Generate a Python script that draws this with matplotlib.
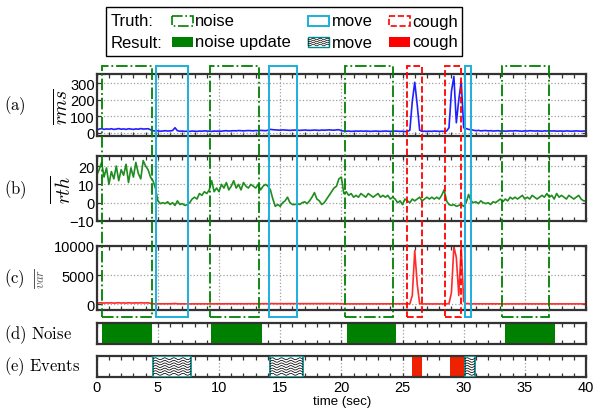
import numpy as np
import matplotlib
matplotlib.use('Agg')
import matplotlib.pyplot as plt
from matplotlib.patches import Rectangle
from matplotlib.transforms import blended_transform_factory
from matplotlib.ticker import MultipleLocator

plt.rcParams['font.family'] = ['Liberation Sans', 'DejaVu Sans']
plt.rcParams['mathtext.fontset'] = 'cm'

# ---------------- data ----------------
dt = 0.2  # sampling step (s)
rms = [15, 22, 25, 20, 23, 21, 24, 20, 22, 25,
       21, 23, 20, 24, 22, 20, 23, 21, 25, 22,
       23, 24, 18, 12, 10, 11, 9, 10, 12, 10,
       11, 13, 30, 12, 9, 10, 8, 9, 8, 10,
       9, 8, 10, 9, 11, 10, 9, 8, 10, 9,
       10, 9, 11, 12, 10, 11, 12, 11, 13, 12,
       11, 12, 13, 12, 11, 13, 12, 14, 13, 12,
       15, 20, 18, 17, 16, 15, 17, 16, 15, 14,
       15, 16, 15, 14, 15, 16, 15, 14, 15, 16,
       15, 14, 16, 15, 16, 17, 16, 15, 17, 18,
       12, 10, 9, 10, 8, 9, 10, 9, 10, 9,
       10, 9, 8, 9, 10, 9, 8, 9, 10, 9,
       8, 9, 10, 9, 8, 9, 7, 8, 15, 190,
       305, 170, 15, 8, 9, 8, 9, 8, 10, 9,
       8, 9, 8, 10, 30, 250, 340, 60, 200, 310,
       30, 25, 20, 18, 15, 12, 14, 11, 12, 13,
       11, 12, 10, 11, 12, 10, 11, 9, 10, 11,
       10, 12, 11, 10, 9, 11, 10, 12, 11, 10,
       11, 10, 9, 11, 10, 12, 10, 11, 9, 10,
       10, 9, 11, 10, 9, 10, 11, 10, 9, 10,
       10]

rth = [15, 18, 22, 14, 19, 10, 17, 13, 20, 12,
       18, 15, 21, 11, 19, 14, 22, 16, 13, 23,
       20, 18, 14, 12, 8, 1, -0.5, 0, -0.5, 0.5,
       -1, 0, -1.5, 1, -1, -0.5, -1.5, -1, 0, 2,
       3, 2, 5, 4, 6, 5, 7, 12, 6, 8,
       6, 10, 8, 11, 7, 9, 12, 8, 10, 7,
       11, 9, 8, 10, 9, 8, 10, 7, 9, 10,
       9, 7, 2, -2, -1, -2, 0, 1, 3, 0,
       -1, -1, -0.5, -1, 0, 0.5, -0.5, 1, 3, 5.5,
       2, 1, -1, 0, 2, 4, 6, 8, 9, 13,
       14, 5, 6, 4, 5, 3, 4, 3, 5, 4,
       3, 5, 4, 3, 4, 5, 3, 4, 3, 4,
       2, 3, 2, 0, 1, -1, 2, 1, 0, 2,
       1, 2, 3, 1, 2, 3, 2, 3, 2, 3,
       2, 4, 7, 1, -1, -1.5, -1, -2, -1.5, -1,
       -2, 0, 4.5, 1, 0, 0.5, -0.5, 1, 0, -0.5,
       0, -1, 0.5, 0, 1, 2, 0.5, 2, 1, 3,
       2, 3, 2, 3, 4, 2, 3, 2, 4, 3,
       2, 3, 4, 3, 5, 3, 4, 2, 5, 3,
       4, 3, 2, 4, 3, 2, 3, 4, 2, 1,
       1]

var = [150, 220, 250, 180, 230, 200, 240, 180, 210, 250,
       190, 230, 180, 240, 210, 190, 230, 200, 250, 210,
       220, 230, 150, 80, 60, 60, 50, 60, 70, 60,
       60, 70, 120, 60, 50, 60, 50, 50, 50, 60,
       50, 50, 60, 50, 60, 60, 50, 50, 60, 50,
       60, 50, 60, 70, 60, 60, 70, 60, 70, 70,
       60, 70, 70, 70, 60, 70, 70, 80, 70, 70,
       80, 100, 90, 90, 80, 80, 90, 80, 80, 70,
       80, 80, 80, 70, 80, 80, 80, 70, 80, 80,
       80, 70, 80, 80, 80, 90, 80, 80, 90, 90,
       60, 50, 50, 50, 40, 50, 50, 50, 50, 50,
       50, 50, 40, 50, 50, 50, 40, 50, 50, 50,
       40, 50, 50, 50, 40, 50, 40, 40, 60, 1500,
       9200, 3500, 100, 40, 50, 40, 50, 40, 50, 50,
       40, 50, 40, 50, 100, 2000, 9900, 8000, 1500, 9800,
       500, 100, 80, 70, 60, 50, 60, 50, 50, 60,
       50, 60, 50, 50, 60, 50, 50, 40, 50, 50,
       50, 60, 50, 50, 40, 50, 50, 60, 50, 50,
       50, 50, 40, 50, 50, 60, 50, 50, 40, 50,
       50, 40, 50, 50, 40, 50, 50, 50, 40, 50,
       50]

truth_noise = [(0.46, 4.5), (9.27, 13.25), (20.3, 24.24), (33.1, 37.0)]
truth_move = [(4.85, 7.46), (14.1, 16.4), (30.1, 30.6)]
truth_cough = [(25.4, 26.6), (28.5, 29.8)]
res_noise = [(0.41, 4.54), (9.38, 13.54), (20.5, 24.47), (33.4, 37.5)]
res_move = [(4.62, 7.69), (14.17, 16.85), (30.1, 30.9)]
res_cough = [(25.8, 26.6), (28.9, 30.04)]

xticks = [0, 5, 10, 15, 20, 25, 30, 35, 40]
yticks_a = [0, 100, 200, 300]
yticks_b = [-10, 0, 10, 20]
yticks_c = [0, 5000, 10000]

# ---------------- style ----------------
W, H = 593, 410
C_RMS = '#2020ff'
C_RTH = '#1f8c1f'
C_VAR = '#ff2a2a'
C_NOISE = '#008000'
C_MOVE = '#1ab0dc'
C_COUGH_T = '#ff0000'
C_COUGH_R = '#ee2200'
C_MOVE_EDGE = '#008b8b'
SPINE = '#333333'

fig = plt.figure(figsize=(W / 100, H / 100), dpi=100)
L = 96.7 / W
R = 586.0 / W


def mkax(top, bot):
    return fig.add_axes([L, 1 - bot / H, R - L, (bot - top) / H])


def style(ax, grid_y=True):
    ax.set_xlim(0, 40)
    ax.xaxis.set_major_locator(MultipleLocator(5))
    ax.xaxis.set_minor_locator(MultipleLocator(1))
    ax.tick_params(which='both', direction='in', top=True, right=True,
                   length=3, width=0.9, color=SPINE, labelsize=10.5, pad=1.5)
    ax.tick_params(axis='x', labelbottom=False)
    for s in ax.spines.values():
        s.set_linewidth(1.6)
        s.set_color(SPINE)
    ax.grid(True, axis='x', which='major', color='#a0a0a0', ls=':', lw=0.9)
    if grid_y:
        ax.grid(True, axis='y', which='major', color='#a0a0a0', ls=':', lw=0.9)


t_rms = np.arange(len(rms)) * dt
t_rth = np.arange(len(rth)) * dt
t_var = np.arange(len(var)) * dt

ax_a = mkax(75, 137)
ax_a.plot(t_rms, rms, color=C_RMS, lw=1.2)
ax_a.set_ylim(-20, 355)
ax_a.set_yticks(yticks_a)
style(ax_a)

ax_b = mkax(157, 222)
ax_b.plot(t_rth, rth, color=C_RTH, lw=1.2)
ax_b.set_ylim(-10, 25.5)
ax_b.set_yticks(yticks_b)
style(ax_b)

ax_c = mkax(247, 311)
ax_c.plot(t_var, var, color=C_VAR, lw=1.2)
ax_c.set_ylim(-1000, 10000)
ax_c.set_yticks(yticks_c)
style(ax_c)

ax_d = mkax(324, 345)
ax_d.set_ylim(0, 1)
ax_d.set_yticks([])
style(ax_d, grid_y=False)
for x0, x1 in res_noise:
    ax_d.axvspan(x0, x1, color=C_NOISE, lw=0, zorder=2)

ax_e = mkax(357, 378)
ax_e.set_ylim(0, 1)
ax_e.set_yticks([])
style(ax_e, grid_y=False)
ax_e.set_xticks(xticks)
ax_e.tick_params(axis='x', labelbottom=True, pad=2)
for x0, x1 in res_cough:
    ax_e.axvspan(x0, x1, color=C_COUGH_R, lw=0, zorder=2)
for x0, x1 in res_move:
    ax_e.add_patch(Rectangle((x0, 0), x1 - x0, 1, facecolor='white',
                             edgecolor=C_MOVE_EDGE, lw=1.2, zorder=3))
    xs = np.linspace(x0, x1, 200)
    for off in np.linspace(0.13, 0.87, 7):
        ys = off + 0.045 * np.sin(2 * np.pi * (xs - x0) / 0.75)
        ax_e.plot(xs, ys, color='black', lw=0.55, zorder=3.5)

# ---------------- truth boxes spanning panels a-c ----------------
btr = blended_transform_factory(ax_a.transData, fig.transFigure)
yb = 1 - 318 / H
yt = 1 - 67 / H
for x0, x1 in truth_noise:
    fig.add_artist(Rectangle((x0, yb), x1 - x0, yt - yb, transform=btr, fill=False,
                             ec=C_NOISE, lw=1.3, ls='-.'))
for x0, x1 in truth_move:
    fig.add_artist(Rectangle((x0, yb), x1 - x0, yt - yb, transform=btr, fill=False,
                             ec=C_MOVE, lw=1.4, ls='-'))
for x0, x1 in truth_cough:
    fig.add_artist(Rectangle((x0, yb), x1 - x0, yt - yb, transform=btr, fill=False,
                             ec=C_COUGH_T, lw=1.3, ls='--'))


def ftext(x, y, s, **kw):
    fig.text(x / W, 1 - y / H, s, **kw)


# ---------------- panel labels ----------------
ftext(15, 106, r'$\mathrm{(a)}$', fontsize=12, ha='center', va='center')
ftext(62, 107, r'$\overline{rms}$', fontsize=14, ha='center', va='center', rotation=90)
ftext(15, 190, r'$\mathrm{(b)}$', fontsize=12, ha='center', va='center')
ftext(62, 190, r'$\overline{rth}$', fontsize=14, ha='center', va='center', rotation=90)
ftext(14, 279, r'$\mathrm{(c)}$', fontsize=12, ha='center', va='center')
ftext(42, 279, r'$\overline{var}$', fontsize=9, ha='center', va='center', rotation=90,
      color='#555555')
ftext(4, 335, r'$\mathrm{(d)\ Noise}$', fontsize=12, ha='left', va='center')
ftext(4, 367, r'$\mathrm{(e)\ Events}$', fontsize=12, ha='left', va='center')
ftext(342, 402, 'time (sec)', fontsize=9.5, ha='center', va='center')

# ---------------- legend (pixel overlay) ----------------
lax = fig.add_axes([0, 0, 1, 1])
lax.set_xlim(0, W)
lax.set_ylim(H, 0)
lax.axis('off')
lax.add_patch(Rectangle((106, 8), 356, 49, fill=False, ec='black', lw=1.0))
r1, r2 = 22, 43
iw, ih = 21, 10
lax.text(111, r1, 'Truth:', fontsize=12, va='center', ha='left')
lax.text(111, r2, 'Result:', fontsize=12, va='center', ha='left')
lax.add_patch(Rectangle((172, r1 - ih / 2), iw, ih, fill=False, ec=C_NOISE, lw=1.2, ls='-.'))
lax.text(195, r1, 'noise', fontsize=12, va='center', ha='left')
lax.add_patch(Rectangle((308, r1 - ih / 2), iw, ih, fill=False, ec=C_MOVE, lw=1.4))
lax.text(332, r1, 'move', fontsize=12, va='center', ha='left')
lax.add_patch(Rectangle((389, r1 - ih / 2), iw, ih, fill=False, ec=C_COUGH_T, lw=1.2, ls='--'))
lax.text(412, r1, 'cough', fontsize=12, va='center', ha='left')

lax.add_patch(Rectangle((172, r2 - ih / 2), iw, ih, color=C_NOISE, lw=0))
lax.text(195, r2, 'noise update', fontsize=12, va='center', ha='left')
lax.add_patch(Rectangle((308, r2 - ih / 2), iw, ih, fc='white', ec=C_MOVE_EDGE, lw=1.0))
xs = np.linspace(308, 308 + iw, 80)
for off in np.linspace(r2 - 3, r2 + 3, 4):
    lax.plot(xs, off + 0.8 * np.sin(2 * np.pi * (xs - 308) / 7), color='black', lw=0.5)
lax.text(332, r2, 'move', fontsize=12, va='center', ha='left')
lax.add_patch(Rectangle((389, r2 - ih / 2), iw, ih, color='#ff0000', lw=0))
lax.text(412, r2, 'cough', fontsize=12, va='center', ha='left')

fig.savefig('out.png', dpi=100)
